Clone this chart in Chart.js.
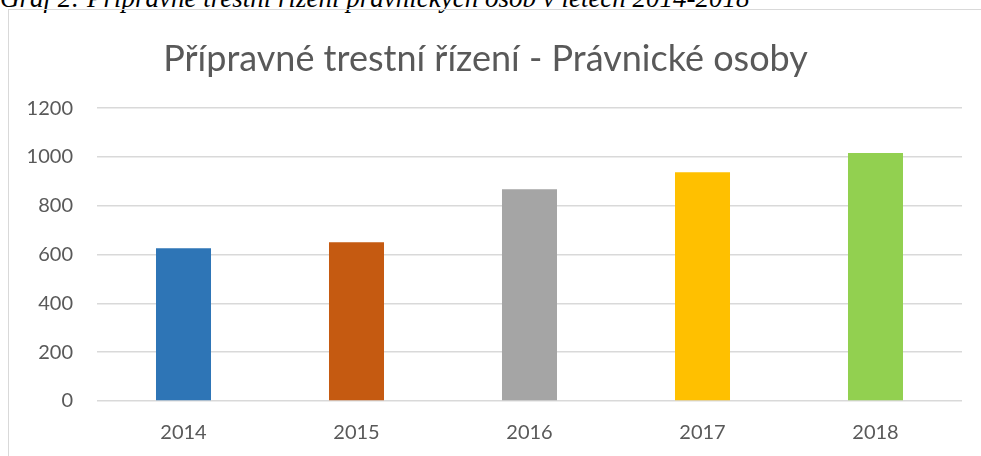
<!DOCTYPE html>
<html>
<head>
<meta charset="utf-8">
<script src="https://cdn.jsdelivr.net/npm/chart.js@4"></script>
<style>
  body { margin: 0; width: 981px; height: 456px; overflow: hidden; background: #fff; position: relative; }
  #caption { position: absolute; left: 0; top: -15px; font-family: "Liberation Serif", serif; font-style: italic; font-size: 27px; line-height: 27px; color: #000; white-space: nowrap; }
  #box { position: absolute; left: 8px; top: 9px; width: 972px; height: 446px; border-left: 1px solid #d9d9d9; border-top: 1px solid #d9d9d9; }
</style>
</head>
<body>
<div id="caption">Graf 2: Přípravné trestní řízení právnických osob v letech 2014-2018</div>
<div id="box"><canvas id="pravnicke_chart"></canvas></div>
<script>
const years = ['2014', '2015', '2016', '2017', '2018'];
const counts = [626, 651, 868, 938, 1016];
const barColors = ['#2E75B6', '#C55A11', '#A5A5A5', '#FFC000', '#92D050'];

const ctx = document.getElementById('pravnicke_chart').getContext('2d');

new Chart(ctx, {
    type: 'bar',
    data: {
        labels: years,
        datasets: [{
            label: 'Počet',
            data: counts,
            backgroundColor: barColors,
            categoryPercentage: 1,
            barPercentage: 0.318
        }]
    },
    options: {
        responsive: true,
        maintainAspectRatio: false,
        animation: false,
        layout: { padding: { left: 0, right: 19, top: 0, bottom: 0 } },
        plugins: {
            legend: { display: false },
            tooltip: { enabled: false },
            title: {
                display: true,
                text: 'Přípravné trestní řízení - Právnické osoby',
                color: '#595959',
                font: { family: 'Lato', size: 36, weight: 'normal' },
                padding: { top: 28, bottom: 27 }
            }
        },
        scales: {
            x: {
                grid: { display: false, drawTicks: false },
                border: { display: false },
                ticks: { color: '#595959', font: { family: 'Lato', size: 20 }, padding: 20 },
                afterFit: function (scale) { scale.height = 55; }
            },
            y: {
                min: 0,
                max: 1200,
                ticks: {
                    stepSize: 200,
                    color: '#595959',
                    font: { family: 'Lato', size: 20 },
                    padding: 24,
                    callback: function (value) { return String(value); }
                },
                grid: { color: '#d9d9d9', lineWidth: 1.5, drawTicks: false },
                border: { display: false },
                afterFit: function (scale) { scale.width = 88; }
            }
        }
    }
});
</script>
</body>
</html>
